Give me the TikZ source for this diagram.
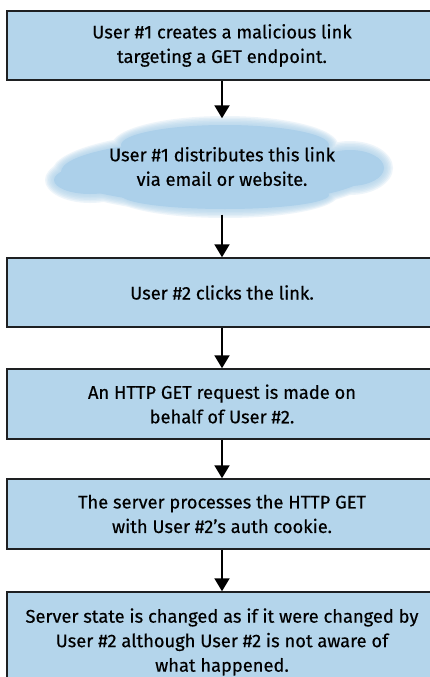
\documentclass[tikz,border=0pt]{standalone}
\usepackage{fontspec}
\setmainfont{Fira Sans}[FakeBold=0.4]
\usetikzlibrary{arrows.meta}
\definecolor{boxfill}{RGB}{180,213,235}
\definecolor{cloudfill}{RGB}{172,208,234}
\definecolor{edge}{RGB}{30,32,34}
\tikzset{
  stepbox/.style={draw=edge, line width=1.5pt, fill=boxfill, rectangle,
    minimum width=430pt, align=center, font=\fontsize{18.3}{24.5}\selectfont, inner sep=0pt},
  cloudtext/.style={rectangle, minimum width=340pt, minimum height=96pt, align=center,
    font=\fontsize{18.3}{24.5}\selectfont, inner sep=0pt},
  flow/.style={line width=2pt, draw=black, -{Triangle[width=15pt,length=13pt]}}
}
\newcommand{\cloudblob}[1]{%
  \fill[cloudfill] (215,172) ellipse [x radius=160+#1, y radius=38+#1];
  \fill[cloudfill] (225,145) ellipse [x radius=110+#1, y radius=26+#1];
  \fill[cloudfill] (90,180) ellipse [x radius=42+#1, y radius=20+#1];
  \fill[cloudfill] (350,168) ellipse [x radius=40+#1, y radius=24+#1];
  \fill[cloudfill] (225,195) ellipse [x radius=110+#1, y radius=20+#1];
}
\begin{document}
\begin{tikzpicture}[x=1pt,y=-1pt]
\useasboundingbox (0,0) rectangle (430,677);
\clip (0,0) rectangle (430,677);
\fill[white] (0,0) rectangle (430,677);
% cloud with soft edges
\foreach \r in {3,1.5,0,-1.5,-3,-4.5} {
  \begin{scope}[transparency group, opacity=0.2]
    \cloudblob{\r}
  \end{scope}
}
\cloudblob{-6}
% nodes
\node[stepbox, minimum height=69pt] (b1) at (222,45.5)
  {User \#1 creates a malicious link\\targeting a GET endpoint.};
\node[cloudtext] (cloud) at (222,166.5)
  {User \#1 distributes this link\\via email or website.};
\node[stepbox, minimum height=69pt] (b3) at (222,292.5)
  {User \#2 clicks the link.};
\node[stepbox, minimum height=70pt] (b4) at (222,404)
  {An HTTP GET request is made on\\behalf of User \#2.};
\node[stepbox, minimum height=70pt] (b5) at (222,514)
  {The server processes the HTTP GET\\with User \#2's auth cookie.};
\node[stepbox, minimum height=100pt] (b6) at (222,642)
  {Server state is changed as if it were changed by\\User \#2 although User \#2 is not aware of\\what happened.};
% connectors
\draw[flow] (b1.south) -- (cloud.north);
\draw[flow] (cloud.south) -- (b3.north);
\draw[flow] (b3.south) -- (b4.north);
\draw[flow] (b4.south) -- (b5.north);
\draw[flow] (b5.south) -- (b6.north);
\end{tikzpicture}
\end{document}
